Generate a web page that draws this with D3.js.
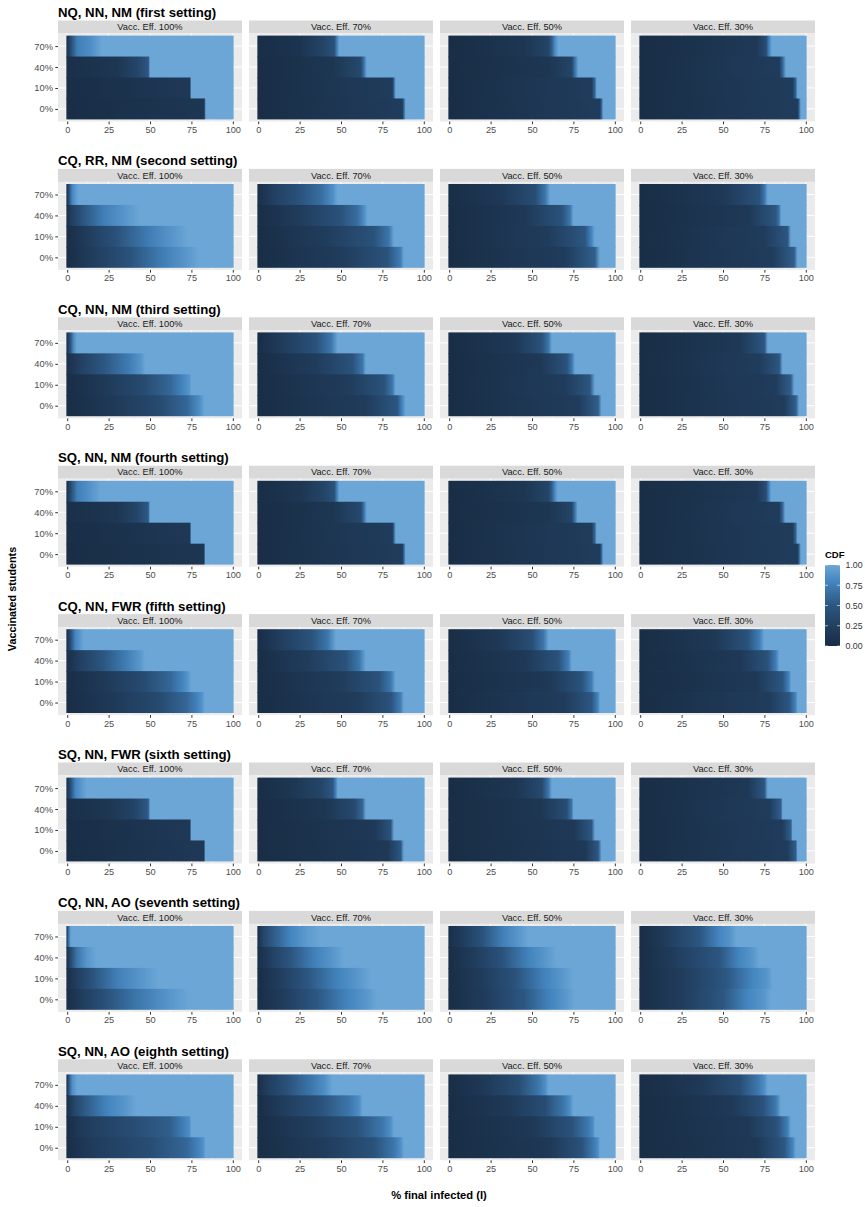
<!DOCTYPE html>
<html>
<head>
<meta charset="utf-8">
<script src="https://cdn.jsdelivr.net/npm/d3@7"></script>
<style>
  body { margin: 0; background: #ffffff; }
  svg text { font-family: "Liberation Sans", Arial, Helvetica, sans-serif; }
</style>
</head>
<body>
<svg id="chart" width="865" height="1207"></svg>
<script>
// Facet rows (settings), facet columns (vaccine efficacy), tile rows (vaccinated share)
const settings = [
  "NQ, NN, NM (first setting)",
  "CQ, RR, NM (second setting)",
  "CQ, NN, NM (third setting)",
  "SQ, NN, NM (fourth setting)",
  "CQ, NN, FWR (fifth setting)",
  "SQ, NN, FWR (sixth setting)",
  "CQ, NN, AO (seventh setting)",
  "SQ, NN, AO (eighth setting)"
];
const efficacy = ["Vacc. Eff. 100%", "Vacc. Eff. 70%", "Vacc. Eff. 50%", "Vacc. Eff. 30%"];
const vaccinated = ["70%", "40%", "10%", "0%"];   // top to bottom
const xTicks = [0, 25, 50, 75, 100];
const xMinor = [12.5, 37.5, 62.5, 87.5];
const legendTicks = [0, 0.25, 0.5, 0.75, 1];

// CDF of % final infected, as [percent infected, CDF] knots.
// Each setting: one block per efficacy column, one row per vaccinated level (70%, 40%, 10%, 0%).
const cdfFirst = [
  [[[0,.1],[2,.35],[6,.75],[14,.85],[18,.93],[21,1]],
   [[0,.05],[30,.12],[42,.3],[49,.5],[50,1]],
   [[0,.03],[74,.15],[75,1]],
   [[0,.02],[82.7,.12],[83.7,1]]],
  [[[0,.03],[25,.1],[40,.3],[46,.45],[48,.85],[49,1]],
   [[0,.02],[45,.12],[62,.35],[64,.7],[65.5,1]],
   [[0,.02],[81,.2],[82,.6],[83,1]],
   [[0,.02],[87,.2],[88,.6],[89,1]]],
  [[[0,.02],[45,.12],[60,.3],[62,.55],[64,.85],[66,1]],
   [[0,.02],[60,.12],[74,.3],[76,.7],[78,1]],
   [[0,.02],[86,.2],[88,.6],[89,1]],
   [[0,.02],[91,.2],[92,.6],[93,1]]],
  [[[0,.02],[70,.15],[76,.4],[78,.8],[79.5,1]],
   [[0,.02],[84,.2],[86,.6],[88,1]],
   [[0,.02],[92,.2],[94,.6],[95,1]],
   [[0,.02],[95,.2],[96,.6],[97,1]]]
];
const cdfSecond = [
  [[[0,.1],[1,.4],[3,.8],[5,.92],[7,1]],
   [[0,.05],[3,.25],[10,.5],[22,.75],[35,.9],[44,1]],
   [[0,.03],[12,.2],[30,.45],[50,.75],[64,.9],[73,1]],
   [[0,.02],[15,.2],[38,.45],[58,.75],[72,.9],[80,1]]],
  [[[0,.05],[10,.25],[25,.45],[38,.65],[45,.85],[48,1]],
   [[0,.03],[25,.2],[50,.45],[60,.65],[64,.85],[66,1]],
   [[0,.02],[40,.2],[70,.45],[79,.7],[82,1]],
   [[0,.02],[50,.2],[78,.45],[86,.75],[88,1]]],
  [[[0,.03],[30,.15],[52,.4],[58,.7],[61,1]],
   [[0,.02],[45,.15],[68,.45],[73,.7],[75,1]],
   [[0,.02],[60,.2],[82,.5],[86,.8],[88,1]],
   [[0,.02],[70,.2],[88,.55],[91,1]]],
  [[[0,.02],[50,.15],[72,.45],[75,.7],[77,1]],
   [[0,.02],[65,.15],[82,.5],[84,.7],[85,1]],
   [[0,.02],[75,.2],[89,.5],[91,1]],
   [[0,.02],[80,.2],[93,.55],[95,1]]]
];
const cdfThird = [
  [[[0,.1],[2,.5],[4,.85],[6,1]],
   [[0,.05],[8,.25],[22,.5],[38,.75],[45,.9],[47,1]],
   [[0,.03],[20,.15],[45,.35],[62,.6],[70,.8],[74,.9],[75,1]],
   [[0,.02],[25,.15],[55,.35],[72,.6],[80,.85],[83,1]]],
  [[[0,.03],[15,.2],[35,.45],[44,.7],[48,1]],
   [[0,.02],[35,.2],[57,.45],[63,.7],[65,1]],
   [[0,.02],[55,.2],[76,.45],[81,.7],[83,1]],
   [[0,.02],[65,.2],[84,.5],[87,.8],[89,1]]],
  [[[0,.02],[40,.15],[56,.45],[60,.7],[62,1]],
   [[0,.02],[55,.15],[71,.45],[74,.7],[76,1]],
   [[0,.02],[70,.2],[85,.5],[88,1]],
   [[0,.02],[78,.2],[90,.55],[92,1]]],
  [[[0,.02],[60,.15],[75,.5],[77,1]],
   [[0,.02],[72,.2],[84,.5],[86,1]],
   [[0,.02],[82,.2],[91,.55],[93,1]],
   [[0,.02],[87,.2],[94,.55],[96,1]]]
];
const cdfFourth = [
  [[[0,.1],[2,.35],[6,.75],[12,.85],[17,.93],[20,1]],
   [[0,.05],[30,.12],[42,.3],[48,.5],[49,.55],[50,1]],
   [[0,.03],[74,.15],[75,1]],
   [[0,.02],[82.5,.12],[83.5,1]]],
  [[[0,.03],[25,.12],[40,.3],[46,.45],[48,.85],[49,1]],
   [[0,.02],[45,.12],[62,.35],[64,.7],[65.5,1]],
   [[0,.02],[81,.2],[82,.6],[83,1]],
   [[0,.02],[87,.2],[88,.6],[89,1]]],
  [[[0,.02],[45,.12],[60,.3],[62,.55],[64,.85],[65.5,1]],
   [[0,.02],[60,.12],[74,.3],[76,.7],[77.5,1]],
   [[0,.02],[86,.2],[88,.6],[89,1]],
   [[0,.02],[91,.2],[92,.6],[93,1]]],
  [[[0,.02],[70,.15],[76,.4],[78,.8],[79,1]],
   [[0,.02],[84,.2],[86,.6],[87.5,1]],
   [[0,.02],[92,.2],[94,.6],[95,1]],
   [[0,.02],[95,.2],[96,.6],[97,1]]]
];
const cdfFifth = [
  [[[0,.08],[2,.4],[5,.8],[8,.92],[10,1]],
   [[0,.04],[8,.25],[22,.5],[36,.75],[44,.9],[47,1]],
   [[0,.03],[20,.15],[45,.35],[62,.6],[70,.8],[73,.9],[75,1]],
   [[0,.02],[25,.15],[55,.35],[72,.6],[79,.8],[82,.9],[83,1]]],
  [[[0,.03],[12,.2],[32,.45],[42,.7],[47,1]],
   [[0,.02],[30,.2],[53,.45],[61,.7],[65,1]],
   [[0,.02],[50,.2],[73,.45],[80,.7],[83,1]],
   [[0,.02],[60,.2],[80,.45],[86,.75],[88,1]]],
  [[[0,.02],[30,.15],[50,.4],[57,.7],[60,1]],
   [[0,.02],[45,.15],[66,.45],[72,.75],[74,1]],
   [[0,.02],[60,.15],[80,.45],[86,.75],[88,1]],
   [[0,.02],[70,.2],[86,.5],[90,.8],[91,1]]],
  [[[0,.02],[45,.15],[65,.45],[72,.75],[75,1]],
   [[0,.02],[60,.15],[77,.45],[82,.75],[84,1]],
   [[0,.02],[70,.15],[86,.5],[90,.8],[91,1]],
   [[0,.02],[78,.2],[90,.5],[94,.8],[95,1]]]
];
const cdfSixth = [
  [[[0,.1],[2,.4],[5,.8],[9,.92],[12,1]],
   [[0,.05],[25,.12],[40,.28],[48,.5],[49,.55],[50,1]],
   [[0,.03],[74,.15],[75,1]],
   [[0,.02],[82.5,.15],[83.5,1]]],
  [[[0,.03],[20,.12],[38,.3],[45,.5],[47,.8],[48,1]],
   [[0,.02],[40,.12],[58,.35],[63,.6],[65,1]],
   [[0,.02],[70,.15],[80,.45],[82,1]],
   [[0,.02],[78,.15],[86,.5],[88,1]]],
  [[[0,.02],[40,.12],[56,.35],[60,.7],[62,1]],
   [[0,.02],[55,.12],[71,.4],[74,.7],[75,1]],
   [[0,.02],[75,.15],[86,.5],[88,1]],
   [[0,.02],[82,.15],[90,.5],[92,1]]],
  [[[0,.02],[65,.15],[75,.5],[77,1]],
   [[0,.02],[78,.2],[85,.55],[86,1]],
   [[0,.02],[86,.2],[91,.55],[92,1]],
   [[0,.02],[89,.2],[94,.55],[95,1]]]
];
const cdfSeventh = [
  [[[0,.3],[1,.7],[2,.95],[3,1]],
   [[0,.08],[2,.35],[6,.7],[12,.9],[18,1]],
   [[0,.04],[5,.2],[15,.45],[30,.75],[45,.9],[55,1]],
   [[0,.03],[8,.2],[24,.45],[42,.7],[60,.88],[74,1]]],
  [[[0,.08],[3,.3],[10,.55],[20,.8],[30,.93],[38,1]],
   [[0,.04],[8,.25],[20,.5],[35,.78],[45,.9],[52,1]],
   [[0,.03],[12,.2],[30,.5],[48,.78],[60,.9],[68,1]],
   [[0,.03],[15,.2],[35,.5],[55,.8],[65,.9],[72,1]]],
  [[[0,.05],[8,.2],[20,.45],[32,.75],[42,.9],[48,1]],
   [[0,.03],[15,.2],[32,.45],[48,.78],[58,.9],[65,1]],
   [[0,.03],[20,.2],[40,.45],[58,.78],[68,.9],[75,1]],
   [[0,.03],[22,.2],[45,.5],[62,.8],[70,.9],[76,1]]],
  [[[0,.03],[12,.15],[36,.5],[48,.8],[54,.88],[58,1]],
   [[0,.03],[20,.2],[48,.5],[60,.8],[68,.9],[72,1]],
   [[0,.03],[25,.2],[52,.5],[68,.8],[77,.9],[80,1]],
   [[0,.03],[25,.2],[50,.5],[65,.8],[75,.9],[79,1]]]
];
const cdfEighth = [
  [[[0,.15],[1,.5],[3,.85],[6,1]],
   [[0,.05],[4,.3],[12,.55],[25,.8],[35,.9],[42,1]],
   [[0,.03],[10,.2],[40,.4],[62,.55],[70,.75],[74,.85],[74.8,1]],
   [[0,.03],[15,.2],[50,.4],[72,.6],[80,.8],[82.5,.88],[83.3,1]]],
  [[[0,.05],[5,.2],[18,.45],[32,.7],[40,.85],[45,1]],
   [[0,.03],[15,.2],[38,.45],[55,.7],[61,.85],[63,1]],
   [[0,.02],[30,.2],[60,.45],[75,.7],[80,.85],[82,1]],
   [[0,.02],[40,.2],[70,.45],[82,.7],[86,.85],[88,1]]],
  [[[0,.03],[20,.15],[42,.4],[54,.7],[58,.85],[60,1]],
   [[0,.02],[35,.15],[58,.4],[69,.7],[73,.85],[75,1]],
   [[0,.02],[50,.15],[74,.45],[84,.72],[87,.85],[88,1]],
   [[0,.02],[60,.15],[80,.45],[88,.75],[90,.85],[91,1]]],
  [[[0,.02],[35,.15],[60,.4],[71,.7],[75,.85],[77,1]],
   [[0,.02],[55,.15],[74,.45],[82,.72],[85,1]],
   [[0,.02],[65,.15],[83,.45],[89,.75],[91,1]],
   [[0,.02],[70,.15],[87,.5],[92,.78],[94,1]]]
];
const cdfBySetting = [cdfFirst, cdfSecond, cdfThird, cdfFourth, cdfFifth, cdfSixth, cdfSeventh, cdfEighth];

// ---- layout ----
const svg = d3.select("#chart");
const defs = svg.append("defs");
const panelW = 184, panelH = 88, stripH = 13;
const colLeft = c => 58 + c * 191;
const blockTop = b => b * 148.4;

const x = d3.scaleLinear().domain([-5.55, 105.55]).range([0, panelW]);
const y = d3.scalePoint().domain(vaccinated).range([0, panelH]).padding(0.6);
const step = y.step();
const color = d3.scaleLinear()
  .domain([0, 0.5, 0.8, 1])
  .range(["#182c44", "#2c5681", "#4486c1", "#6ba6d6"])
  .interpolate(d3.interpolateLab);

const tileX0 = x(-0.5), tileX1 = x(100.5);
let gradId = 0;

cdfBySetting.forEach((setting, b) => {
  const top = blockTop(b);
  svg.append("text")
    .attr("x", 58).attr("y", top + 17)
    .attr("font-size", 13.2).attr("font-weight", "bold").attr("fill", "#000")
    .text(settings[b]);

  setting.forEach((panel, c) => {
    const g = svg.append("g").attr("transform", `translate(${colLeft(c)},${top + 20.5})`);
    g.append("rect").attr("width", panelW).attr("height", stripH).attr("fill", "#d9d9d9");
    g.append("text")
      .attr("x", panelW / 2).attr("y", stripH / 2).attr("dy", "0.35em")
      .attr("text-anchor", "middle").attr("font-size", 9.3).attr("fill", "#1a1a1a")
      .text(efficacy[c]);

    const p = g.append("g").attr("transform", `translate(0,${stripH})`);
    p.append("rect").attr("width", panelW).attr("height", panelH).attr("fill", "#ebebeb");
    p.selectAll("line.minor").data(xMinor).join("line").attr("class", "minor")
      .attr("x1", d => x(d)).attr("x2", d => x(d)).attr("y1", 0).attr("y2", panelH)
      .attr("stroke", "#fff").attr("stroke-width", 0.5);
    p.selectAll("line.major").data(xTicks).join("line").attr("class", "major")
      .attr("x1", d => x(d)).attr("x2", d => x(d)).attr("y1", 0).attr("y2", panelH)
      .attr("stroke", "#fff").attr("stroke-width", 1);
    p.selectAll("line.hmajor").data(vaccinated).join("line").attr("class", "hmajor")
      .attr("x1", 0).attr("x2", panelW).attr("y1", d => y(d)).attr("y2", d => y(d))
      .attr("stroke", "#fff").attr("stroke-width", 1);

    panel.forEach((knots, i) => {
      const id = "cdf" + (gradId++);
      const lg = defs.append("linearGradient").attr("id", id)
        .attr("gradientUnits", "userSpaceOnUse")
        .attr("x1", tileX0).attr("x2", tileX1).attr("y1", 0).attr("y2", 0);
      knots.forEach(([xv, pv]) => {
        lg.append("stop")
          .attr("offset", (x(xv) - tileX0) / (tileX1 - tileX0))
          .attr("stop-color", color(pv));
      });
      // rows overlap slightly so no hairline seams show between neighbours
      const overlap = i < vaccinated.length - 1 ? 0.8 : 0;
      p.append("rect")
        .attr("x", tileX0).attr("width", tileX1 - tileX0)
        .attr("y", y(vaccinated[i]) - step / 2).attr("height", step + overlap)
        .attr("fill", `url(#${id})`);
    });

    const xa = p.append("g").attr("transform", `translate(0,${panelH})`)
      .call(d3.axisBottom(x).tickValues(xTicks).tickSize(2.75).tickPadding(2.2).tickFormat(d3.format("d")));
    xa.select(".domain").remove();
    xa.selectAll(".tick line").attr("stroke", "#333333");
    xa.selectAll(".tick text").attr("fill", "#4d4d4d").attr("font-size", 9.2)
      .attr("font-family", null);

    if (c === 0) {
      const ya = p.append("g")
        .call(d3.axisLeft(y).tickSize(2.75).tickPadding(2.2));
      ya.select(".domain").remove();
      ya.selectAll(".tick line").attr("stroke", "#333333");
      ya.selectAll(".tick text").attr("fill", "#4d4d4d").attr("font-size", 9.4)
        .attr("font-family", null);
    }
  });
});

// axis titles
svg.append("text")
  .attr("transform", "translate(16,599) rotate(-90)")
  .attr("text-anchor", "middle").attr("font-size", 10.8).attr("font-weight", "bold")
  .text("Vaccinated students");
svg.append("text")
  .attr("x", 439).attr("y", 1199)
  .attr("text-anchor", "middle").attr("font-size", 11.2).attr("font-weight", "bold")
  .text("% final infected (I)");

// colour bar legend
const legX = 825, legTop = 565, legH = 81, legW = 15;
const legScale = d3.scaleLinear().domain([0, 1]).range([legTop + legH, legTop]);
const lgLeg = defs.append("linearGradient").attr("id", "legendGrad")
  .attr("x1", 0).attr("x2", 0).attr("y1", 1).attr("y2", 0);
d3.range(0, 1.0001, 0.05).forEach(v => {
  lgLeg.append("stop").attr("offset", v).attr("stop-color", color(v));
});
svg.append("text")
  .attr("x", legX).attr("y", legTop - 7)
  .attr("font-size", 9.5).attr("font-weight", "bold")
  .text("CDF");
svg.append("rect")
  .attr("x", legX).attr("y", legTop).attr("width", legW).attr("height", legH)
  .attr("fill", "url(#legendGrad)");
svg.selectAll("line.legtickL").data(legendTicks).join("line").attr("class", "legtickL")
  .attr("x1", legX).attr("x2", legX + 3)
  .attr("y1", d => legScale(d)).attr("y2", d => legScale(d))
  .attr("stroke", "#fff").attr("stroke-width", 0.6);
svg.selectAll("line.legtickR").data(legendTicks).join("line").attr("class", "legtickR")
  .attr("x1", legX + legW - 3).attr("x2", legX + legW)
  .attr("y1", d => legScale(d)).attr("y2", d => legScale(d))
  .attr("stroke", "#fff").attr("stroke-width", 0.6);
const la = svg.append("g").attr("transform", `translate(${legX + legW},0)`)
  .call(d3.axisRight(legScale).tickValues(legendTicks).tickSize(0).tickPadding(5.5).tickFormat(d3.format(".2f")));
la.select(".domain").remove();
la.selectAll(".tick text").attr("fill", "#333333").attr("font-size", 8.8).attr("font-family", null);
</script>
</body>
</html>
